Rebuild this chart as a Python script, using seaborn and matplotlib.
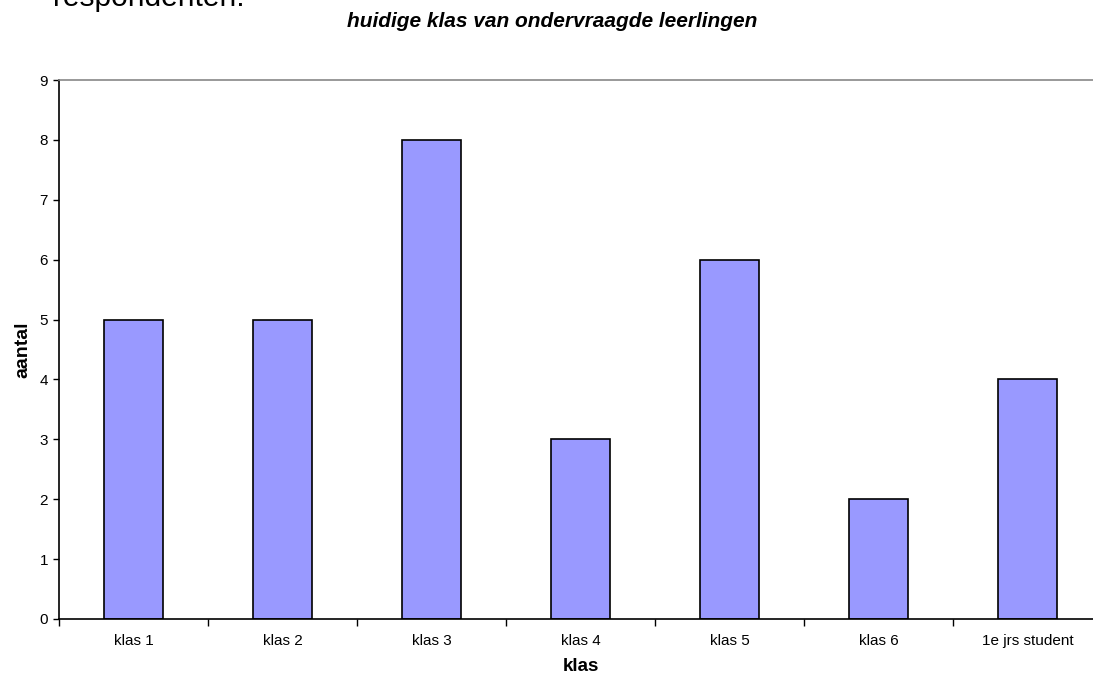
import matplotlib
matplotlib.use("Agg")
import matplotlib.pyplot as plt
import seaborn as sns
import pandas as pd
import numpy as np

categories = ["klas 1", "klas 2", "klas 3", "klas 4", "klas 5", "klas 6", "1e jrs student"]
values = [5, 5, 8, 3, 6, 2, 4]
yticks = list(range(0, 10))

sns.set_theme(style="white")
plt.rcParams['font.family'] = ['Liberation Sans', 'DejaVu Sans']
plt.rcParams['text.color'] = 'black'
plt.rcParams['axes.labelcolor'] = 'black'
plt.rcParams['xtick.color'] = 'black'
plt.rcParams['ytick.color'] = 'black'

df = pd.DataFrame({"klas": categories, "aantal": values})

fig = plt.figure(figsize=(10.93, 6.79), dpi=100)
ax = fig.add_axes([59/1093, 1-619/679, (1102-59)/1093, (619-80)/679])

sns.barplot(data=df, x="klas", y="aantal", ax=ax, color="#9999FF", saturation=1,
            width=0.4, edgecolor="black", linewidth=1.2)

ax.set_xlim(-0.5, len(categories) - 0.5)
ax.set_ylim(0, 9)
ax.set_yticks(yticks)
ax.tick_params(axis='y', which='major', direction='out', length=4, width=1, color='black',
               labelsize=11, pad=4, left=True)
ax.tick_params(axis='x', which='major', length=0, labelsize=11, pad=11)
ax.set_xticks(np.arange(-0.5, len(categories), 1.0), minor=True)
ax.tick_params(axis='x', which='minor', direction='out', length=5, width=1, color='black', bottom=True)

for s in ['left', 'bottom']:
    ax.spines[s].set_color('black')
    ax.spines[s].set_linewidth(1.2)
ax.spines['right'].set_visible(False)
ax.spines['top'].set_color('#888888')
ax.spines['top'].set_linewidth(1.2)

ax.set_xlabel("klas", fontsize=13.5, fontweight='bold', labelpad=7)
ax.set_ylabel("aantal", fontsize=14, fontweight='bold', labelpad=6)

fig.text(552/1093, 1-27/679, "huidige klas van ondervraagde leerlingen", ha='center', va='baseline',
         fontsize=15, fontweight='bold', fontstyle='italic')
fig.text(53/1093, 1-6/679, "respondenten.", ha='left', va='baseline', fontsize=21.5)

fig.savefig("out.png", dpi=100)
